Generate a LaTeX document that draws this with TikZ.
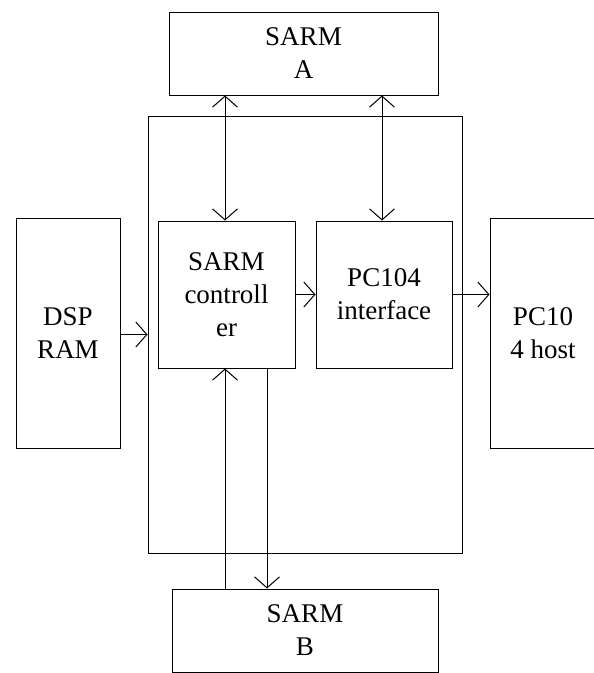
\documentclass[tikz,border=0pt]{standalone}
\usepackage{fontspec}
\setmainfont{Liberation Serif}
\usetikzlibrary{arrows.meta}
\tikzset{
  blk/.style={draw=black, line width=1pt, inner sep=0pt, align=center,
    font=\fontsize{27}{33}\selectfont},
  conn/.style={line width=1pt, draw=black},
  arr/.style={-{Straight Barb[length=11pt,width=25pt,line width=1pt]}},
  darr/.style={{Straight Barb[length=11pt,width=25pt,line width=1pt]}-{Straight Barb[length=11pt,width=25pt,line width=1pt]}},
}
\begin{document}
\begin{tikzpicture}[x=1pt,y=-1pt]
\useasboundingbox (0,0) rectangle (594,673);
\fill[white] (0,0) rectangle (594,673);
\node[blk, minimum width=269pt, minimum height=83pt] (sarmA) at (303.5,53.5) {SARM\\A};
\node[blk, minimum width=314pt, minimum height=437pt] (board) at (305,334.5) {};
\node[blk, minimum width=104pt, minimum height=230pt] (dsp) at (68,333) {DSP\\RAM};
\node[blk, minimum width=137pt, minimum height=147pt] (ctrl) at (226.5,294.5) {SARM\\controll\\er};
\node[blk, minimum width=136pt, minimum height=147pt] (ifc) at (384,294.5) {PC104\\interface};
\node[blk, minimum width=106pt, minimum height=230pt] (host) at (543,333) {PC10\\4 host};
\node[blk, minimum width=266pt, minimum height=83pt] (sarmB) at (305,630.5) {SARM\\B};
% connectors
\draw[conn, darr] ([xshift=-1.5pt]ctrl.north) -- ([xshift=-1.5pt]ctrl.north |- sarmA.south);
\draw[conn, darr] ([xshift=-2pt]ifc.north) -- ([xshift=-2pt]ifc.north |- sarmA.south);
\draw[conn, arr] (dsp.east |- board.west) -- (board.west);
\draw[conn, arr] (ctrl.east) -- (ifc.west);
\draw[conn, arr] (ifc.east) -- (ifc.east -| host.west);
\draw[conn, arr] ([xshift=-1.5pt]ctrl.south |- sarmB.north) -- ([xshift=-1.5pt]ctrl.south);
\draw[conn, arr] ([xshift=40.5pt]ctrl.south) -- ([xshift=40.5pt]ctrl.south |- sarmB.north);
\end{tikzpicture}
\end{document}
